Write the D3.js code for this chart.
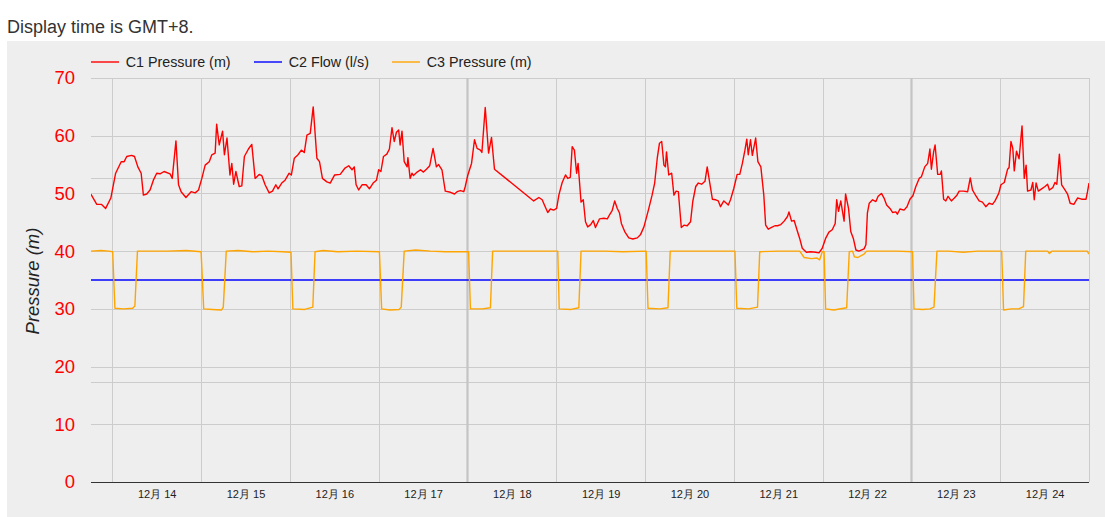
<!DOCTYPE html>
<html><head><meta charset="utf-8">
<script src="https://cdn.jsdelivr.net/npm/d3@7"></script>
<style>
body{margin:0;background:#fff;}
svg{display:block;font-family:Arial,"Liberation Sans",sans-serif;}
</style>
</head><body>
<svg id="chart" width="1105" height="517"></svg>
<script>
// ---------- DATA ----------
const titleText = "Display time is GMT+8.";
const yAxisTitle = "Pressure (m)";
const seriesNames = ["C1 Pressure (m)", "C2 Flow (l/s)", "C3 Pressure (m)"];
const yTickValues = [0, 10, 20, 30, 40, 50, 60, 70];
const secondaryGridValues = [17.4, 52.6];
const dayLabels = ["12月 14","12月 15","12月 16","12月 17","12月 18","12月 19","12月 20","12月 21","12月 22","12月 23","12月 24"];
const dayNumbers = [14,15,16,17,18,19,20,21,22,23,24];
const majorGridDays = [18, 23];
// time in hours after 12月14 00:00
const rangeHours = [-5.76, 264];

const c1Hours = [-5.8,-4.2,-2.9,-1.8,-0.4,0.9,2.4,3.2,3.9,5.2,6.0,6.9,7.8,8.4,9.3,10.2,11.1,12.0,12.9,14.0,15.6,16.2,17.2,17.9,18.6,19.9,21.3,22.4,23.3,
24.2,25.1,26.2,26.9,27.8,28.2,28.9,29.8,30.3,31.0,31.8,32.3,32.8,33.4,34.3,35.0,35.7,36.8,37.7,38.6,39.7,40.4,41.3,42.4,43.3,44.2,44.8,45.8,46.7,47.8,
48.4,49.2,50.2,51.1,51.9,52.6,53.5,54.3,55.3,56.0,56.8,58.0,58.9,60.1,61.6,62.9,63.9,64.8,65.4,65.9,66.6,67.5,68.6,69.5,70.5,71.4,
72.0,72.6,73.3,74.2,74.9,75.6,76.2,76.8,77.4,77.8,78.3,78.9,79.7,79.9,80.5,81.0,81.4,82.4,83.3,84.1,84.9,85.8,86.7,87.6,88.2,89.1,90.0,91.4,92.5,93.2,94.1,95.0,95.4,
96.1,97.1,97.9,98.6,99.5,99.9,100.8,101.7,102.5,103.3,113.9,115.3,116.2,116.8,117.7,118.4,119.3,
120.1,120.7,121.6,122.5,123.1,123.8,124.3,124.9,125.5,125.9,126.7,127.3,127.9,128.5,129.3,130.0,130.6,131.7,132.9,133.8,134.4,135.1,135.8,136.5,137.1,137.6,138.5,139.6,140.7,141.9,142.8,143.7,
144.9,145.9,146.6,147.3,147.9,148.5,149.1,149.5,149.8,150.4,151.2,151.8,152.4,153.0,153.8,154.5,155.4,156.3,156.9,157.7,158.4,159.3,160.2,160.8,161.5,162.2,163.1,163.8,164.4,165.3,166.0,166.5,167.1,
168.0,168.9,169.6,170.3,171.0,171.5,171.9,172.5,173.0,173.9,174.5,175.3,176.1,176.6,177.3,178.2,179.1,179.8,180.7,181.6,182.5,182.9,183.6,184.3,185.2,185.8,186.5,187.6,188.8,190.1,191.0,191.9,
192.8,193.7,194.6,195.4,195.8,196.3,196.9,197.8,198.2,199.0,199.6,200.3,201.0,201.8,203.2,203.7,204.1,204.6,205.5,206.4,207.0,207.9,208.6,209.3,210.2,210.9,211.8,212.2,212.9,214.0,214.8,215.6,
216.4,217.2,218.1,218.7,219.6,220.4,221.0,221.4,222.0,222.4,223.1,223.8,224.1,224.7,225.3,225.9,226.8,227.6,228.3,228.9,230.1,231.2,231.9,232.5,233.4,234.3,235.2,236.1,237.0,237.9,238.6,239.6,
240.2,241.1,242.0,242.4,242.9,243.4,243.8,244.4,245.1,245.9,246.5,247.0,247.4,248.3,248.8,249.2,249.7,250.3,251.2,252.1,252.8,253.3,254.2,254.8,255.3,256.0,256.6,257.5,258.2,258.9,259.9,260.9,262.0,263.2,263.6,264.0];
const c1Values = [49.9,48.1,48.1,47.4,49.2,53.5,55.5,55.5,56.4,56.6,56.4,54.6,53.5,49.7,49.9,50.6,52.3,53.5,53.4,53.8,53.4,52.6,59.1,51.5,50.3,49.3,50.3,50.1,50.6,
52.6,54.9,55.5,56.7,57.0,62.0,58.4,60.8,56.7,59.6,53.2,55.2,51.6,53.8,51.2,51.3,56.4,57.7,58.5,52.6,53.3,53.1,51.5,50.1,50.4,51.5,50.8,51.8,52.3,53.5,
53.2,56.1,56.7,57.5,57.1,60.1,60.4,65.0,56.1,55.5,52.6,52.0,51.8,53.2,53.3,54.4,54.8,54.1,54.6,51.5,50.6,51.5,51.5,50.8,51.8,52.3,
54.1,53.8,56.4,56.8,57.7,61.4,59.0,60.6,61.0,58.4,60.8,55.5,54.6,56.2,52.6,53.5,53.1,53.7,54.1,53.7,54.2,54.8,57.8,54.6,55.0,54.1,50.4,50.2,49.9,50.3,50.5,50.3,51.2,
53.2,55.2,59.3,57.8,57.5,57.1,64.9,57.0,59.7,54.2,48.7,49.3,48.9,48.0,46.7,47.3,47.1,
47.4,49.7,51.9,53.2,52.6,52.8,58.1,57.5,53.5,55.2,48.5,48.9,45.1,44.2,44.6,45.3,44.1,45.6,45.7,45.6,46.3,47.0,48.7,47.4,46.6,44.8,43.4,42.3,42.1,42.3,42.9,44.2,
47.1,49.7,51.8,56.1,58.7,59.0,54.9,54.6,57.2,53.2,53.5,49.7,50.4,50.3,44.1,44.5,44.4,45.1,48.6,51.2,51.8,51.6,52.1,54.6,51.8,49.0,48.9,48.7,47.7,48.7,48.3,48.0,48.9,
50.9,53.3,53.3,55.2,57.5,59.4,56.7,59.3,56.6,59.6,55.5,54.6,49.7,44.5,43.8,44.1,44.4,44.4,44.6,45.2,46.0,46.8,45.2,45.3,43.4,42.2,40.5,39.8,39.9,39.8,39.7,40.5,
42.2,43.3,43.7,44.8,48.9,46.9,48.7,45.2,49.9,47.4,43.4,42.2,40.2,40.0,40.4,41.1,46.6,48.3,48.9,48.6,49.5,50.0,49.2,48.0,47.4,46.7,46.8,46.4,47.3,47.1,47.7,49.0,
49.6,51.2,52.6,52.9,54.6,55.2,57.7,54.2,57.2,58.4,53.3,53.3,53.9,49.0,48.7,49.5,48.7,49.2,49.7,50.4,50.4,50.3,52.7,50.6,49.6,48.7,48.5,47.7,48.3,48.1,48.7,50.0,
51.5,51.9,54.2,54.5,59.0,57.8,53.9,57.3,56.0,61.7,52.6,54.9,50.4,50.6,51.9,48.9,51.8,50.4,50.8,51.2,51.6,50.6,51.0,51.9,51.6,56.8,51.5,50.6,49.9,48.3,48.1,49.2,49.0,49.0,50.3,51.8];

const c2Hours = [-5.8, 48, 120, 192, 264];
const c2Values = [35, 35, 35, 35, 35];

const c3Hours = [-5.8,-3.0,-1.0,0.1,0.7,3.0,5.5,6.1,6.8,10.0,15.0,20.0,24.0,24.7,27.0,29.5,30.0,30.8,34.0,38.0,42.0,46.0,48.3,48.8,52.0,54.2,54.8,57.0,61.0,66.0,
72.2,72.8,75.0,77.5,78.1,78.9,82.0,86.0,90.0,96.3,96.8,100.0,102.2,102.8,110.0,120.4,120.8,124.0,126.1,126.7,133.0,138.0,144.3,144.8,148.0,150.2,150.8,156.0,162.0,
168.3,168.8,172.0,174.4,175.0,180.0,185.8,187.0,189.0,190.5,191.2,191.9,192.4,192.8,195.0,198.5,199.2,200.1,200.6,201.5,203.2,203.9,208.0,212.0,
216.3,216.7,219.0,221.0,222.1,222.9,226.0,230.0,234.0,240.4,240.9,243.0,245.0,246.3,246.9,250.0,252.8,253.3,254.0,256.0,260.0,263.5,264.0];
const c3Values = [40.0,40.1,40.0,39.9,30.1,30.0,30.1,30.5,40.0,40.0,40.0,40.1,39.9,30.0,29.9,29.8,30.3,40.0,40.1,39.9,40.0,39.9,39.8,30.0,29.9,30.3,39.9,40.1,39.9,40.0,
39.9,30.0,29.8,29.9,30.3,40.0,40.2,40.0,39.9,39.9,30.0,30.0,30.2,40.0,40.0,40.0,30.0,29.9,30.2,40.0,40.0,39.9,40.0,30.1,30.0,30.2,40.0,40.0,40.0,
40.0,30.1,30.0,30.3,39.9,40.0,40.0,38.9,38.7,38.8,38.5,39.9,39.9,30.0,29.8,30.2,39.9,40.0,39.0,38.9,39.5,40.0,40.0,40.0,
39.9,30.0,29.9,30.0,30.3,40.0,40.0,39.8,40.0,40.0,29.8,30.0,30.0,30.4,40.0,40.0,40.0,39.6,40.0,40.0,40.0,40.0,39.5];

// ---------- STYLE ----------
const colors = ["#ff0000", "#0000ff", "#ffa500"];
const W = 1105, H = 517;
const plot = {left: 91, right: 1089, top: 78, bottom: 482};

const base = new Date(2023, 11, 14, 0, 0, 0);
const toDate = h => new Date(base.getTime() + h * 3600e3);
const dayDate = (d, hr) => new Date(2023, 11, d, hr, 0, 0);

const svg = d3.select("#chart");

svg.append("text").attr("x", 7).attr("y", 33)
  .attr("font-size", 18).attr("fill", "#333").text(titleText);

svg.append("rect").attr("x", 7).attr("y", 41).attr("width", W - 7).attr("height", H - 41)
  .attr("fill", "#eeeeee");

const x = d3.scaleTime().domain(rangeHours.map(toDate)).range([plot.left, plot.right]);
const y = d3.scaleLinear().domain([0, 70]).range([plot.bottom, plot.top]);

// grid
const grid = svg.append("g");
grid.selectAll("line.h").data(yTickValues.filter(v => v > 0).concat(secondaryGridValues)).join("line")
  .attr("x1", plot.left).attr("x2", plot.right)
  .attr("y1", d => Math.round(y(d)) + 0.5).attr("y2", d => Math.round(y(d)) + 0.5)
  .attr("stroke", "#cccccc").attr("stroke-width", 1);
const gridDays = dayNumbers.concat([25]);
grid.selectAll("line.v").data(gridDays).join("line")
  .attr("x1", d => Math.round(x(dayDate(d, 0))) + 0.5).attr("x2", d => Math.round(x(dayDate(d, 0))) + 0.5)
  .attr("y1", plot.top).attr("y2", plot.bottom)
  .attr("stroke", d => majorGridDays.includes(d) ? "#c4c4c4" : "#cccccc")
  .attr("stroke-width", d => majorGridDays.includes(d) ? 2.2 : 1);

// axes
const yAxis = svg.append("g").attr("transform", `translate(${plot.left},0)`)
  .call(d3.axisLeft(y).tickValues(yTickValues).tickSize(0).tickPadding(16).tickFormat(d3.format("d")));
yAxis.select(".domain").remove();
yAxis.selectAll("text").attr("fill", "#ff0000").attr("font-size", 18.5)
  .attr("font-family", "Arial, 'Liberation Sans', sans-serif");

const xAxis = svg.append("g").attr("transform", `translate(0,${plot.bottom})`)
  .call(d3.axisBottom(x).tickValues(dayNumbers.map(d => dayDate(d, 12))).tickSize(0)
    .tickFormat((d, i) => dayLabels[i]));
xAxis.select(".domain").remove();
xAxis.selectAll("text").attr("y", 12).attr("dy", "0.35em").attr("fill", "#222").attr("font-size", 11)
  .attr("font-family", "Arial, 'Liberation Sans', sans-serif");

svg.append("line").attr("x1", plot.left).attr("x2", plot.right)
  .attr("y1", plot.bottom + 0.5).attr("y2", plot.bottom + 0.5).attr("stroke", "#333").attr("stroke-width", 1);

svg.append("text").attr("transform", `translate(32.5,281) rotate(-90)`)
  .attr("text-anchor", "middle").attr("dominant-baseline", "central")
  .attr("font-size", 18.5).attr("font-style", "italic").attr("fill", "#222").text(yAxisTitle);

// lines
svg.append("clipPath").attr("id", "clip").append("rect")
  .attr("x", plot.left).attr("y", plot.top - 5).attr("width", plot.right - plot.left).attr("height", plot.bottom - plot.top + 5);
const line = d3.line().x(d => x(toDate(d[0]))).y(d => y(d[1]));
const series = [
  d3.zip(c1Hours, c1Values),
  d3.zip(c2Hours, c2Values),
  d3.zip(c3Hours, c3Values)
];
const lg = svg.append("g").attr("clip-path", "url(#clip)");
series.forEach((s, i) => {
  lg.append("path").attr("d", line(s)).attr("fill", "none")
    .attr("stroke", colors[i]).attr("stroke-width", 1.4).attr("stroke-linejoin", "round");
});

// legend
const legendX = [91, 254, 392];
const legend = svg.append("g");
seriesNames.forEach((n, i) => {
  const g = legend.append("g").attr("transform", `translate(${legendX[i]},62)`);
  g.append("line").attr("x1", 0).attr("x2", 28).attr("y1", 0).attr("y2", 0)
    .attr("stroke", colors[i]).attr("stroke-width", 1.4);
  g.append("text").attr("x", 34.7).attr("y", 0).attr("dy", "0.35em")
    .attr("font-size", 14.3).attr("fill", "#222").text(n);
});
</script>
</body></html>
